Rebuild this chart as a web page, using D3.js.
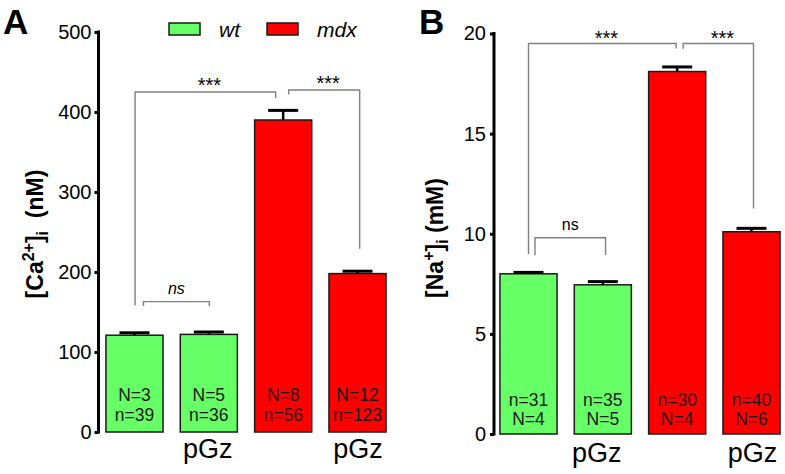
<!DOCTYPE html>
<html><head><meta charset="utf-8">
<script src="https://cdn.jsdelivr.net/npm/d3@7"></script>
<style>
html,body{margin:0;padding:0;background:#fff;}
svg{display:block;font-family:"Liberation Sans",Arial,Helvetica,sans-serif;}
</style></head>
<body>
<svg id="chart" width="785" height="474"></svg>
<script>
// ---- data ----
const categories = ["wt", "wt pGz", "mdx", "mdx pGz"];
const groups = ["wt", "wt", "mdx", "mdx"];
const xLabels = ["", "pGz", "", "pGz"];
const legendItems = ["wt", "mdx"];

const caMeans = [121, 122, 390, 198];
const caSEM = [3, 3, 12, 3];
const caLine1 = ["N=3", "N=5", "N=8", "N=12"];
const caLine2 = ["n=39", "n=36", "n=56", "n=123"];
const caTicks = [0, 100, 200, 300, 400, 500];

const naMeans = [8.0, 7.45, 18.1, 10.1];
const naSEM = [0.07, 0.16, 0.23, 0.17];
const naLine1 = ["n=31", "n=35", "n=30", "n=40"];
const naLine2 = ["N=4", "N=5", "N=4", "N=6"];
const naTicks = [0, 5, 10, 15, 20];

// significance brackets: bar indices, level & leg ends in data units
const caBrackets = [
  {a: 0, b: 2, y: 425, ya: 158, yb: 417.5, label: "***", italic: false},
  {a: 2, b: 3, y: 427.5, ya: 422, yb: 229, label: "***", italic: false},
  {a: 0, b: 1, y: 163, ya: 157.5, yb: 157.5, label: "ns", italic: true}
];
const naBrackets = [
  {a: 0, b: 2, y: 19.5, ya: 8.98, yb: 19.25, label: "***", italic: false},
  {a: 2, b: 3, y: 19.5, ya: 19.24, yb: 11.26, label: "***", italic: false},
  {a: 0, b: 1, y: 9.8, ya: 8.93, yb: 8.93, label: "ns", italic: false}
];

// ---- style ----
const colors = {wt: "#66FF66", mdx: "#FF0000"};
const caBracketDx = [[0.6, -7.5], [5.5, 2.2], [9, 0.5]];
const naBracketDx = [[0, -1], [6, 2], [6.5, 2.7]];

const svg = d3.select("#chart");

function panel(cfg) {
  const y = d3.scaleLinear().domain([0, cfg.max]).range([cfg.y0, cfg.y1]);
  const x = d3.scaleBand().domain(categories)
    .range([cfg.axisX, cfg.axisX + cfg.width])
    .paddingInner(0.232).paddingOuter(cfg.padOuter).align(0.5);
  const g = svg.append("g");

  // axis
  const axis = d3.axisLeft(y).tickValues(cfg.ticks).tickSize(4).tickPadding(cfg.tickPad)
    .tickSizeOuter(0);
  const ax = g.append("g").attr("transform", `translate(${cfg.axisX},0)`).call(axis);
  ax.select(".domain").attr("stroke", "#000").attr("stroke-width", 3)
    .attr("d", `M0,${cfg.y1 - 1.5}V${cfg.y0 + 1.5}`);
  ax.selectAll(".tick line").attr("stroke", "#000").attr("stroke-width", 3);
  ax.selectAll(".tick text").attr("font-size", 20).attr("fill", "#000")
    .attr("font-family", '"Liberation Sans",Arial,sans-serif');

  // bars
  g.selectAll("rect.bar").data(cfg.means).join("rect").attr("class", "bar")
    .attr("x", (d, i) => x(categories[i]))
    .attr("width", x.bandwidth())
    .attr("y", d => y(d))
    .attr("height", d => y(0) - y(d))
    .attr("fill", (d, i) => colors[groups[i]])
    .attr("stroke", "#1a1a1a").attr("stroke-width", 1.5);

  // error bars
  cfg.means.forEach((m, i) => {
    const cx = x(categories[i]) + x.bandwidth() / 2;
    g.append("line").attr("x1", cx).attr("x2", cx)
      .attr("y1", y(m)).attr("y2", y(m + cfg.sem[i]))
      .attr("stroke", "#000").attr("stroke-width", 2.5);
    g.append("line").attr("x1", cx - 15).attr("x2", cx + 15)
      .attr("y1", y(m + cfg.sem[i])).attr("y2", y(m + cfg.sem[i]))
      .attr("stroke", "#000").attr("stroke-width", 3);
  });

  // inside labels
  cfg.means.forEach((m, i) => {
    const cx = x(categories[i]) + x.bandwidth() / 2;
    g.append("text").attr("x", cx).attr("y", cfg.lab1Y).attr("text-anchor", "middle")
      .attr("font-size", 17.5).attr("fill", "#1a1a1a").text(cfg.line1[i]);
    g.append("text").attr("x", cx).attr("y", cfg.lab2Y).attr("text-anchor", "middle")
      .attr("font-size", 17.5).attr("fill", "#1a1a1a").text(cfg.line2[i]);
    if (xLabels[i]) {
      g.append("text").attr("x", cx + cfg.pgzDx[i]).attr("y", cfg.pgzY).attr("text-anchor", "middle")
        .attr("font-size", 27).attr("fill", "#000").text(xLabels[i]);
    }
  });

  // brackets
  cfg.brackets.forEach((b, k) => {
    const xa = x(categories[b.a]) + x.bandwidth() / 2 + cfg.bdx[k][0];
    const xb = x(categories[b.b]) + x.bandwidth() / 2 + cfg.bdx[k][1];
    const yy = y(b.y);
    g.append("path")
      .attr("d", `M${xa},${y(b.ya)}V${yy}H${xb}V${y(b.yb)}`)
      .attr("fill", "none").attr("stroke", "#808080").attr("stroke-width", 1.4);
    const isStar = b.label === "***";
    g.append("text").attr("x", (xa + xb) / 2 + (isStar ? 4 : 0))
      .attr("y", isStar ? yy + cfg.starDy : yy - 8)
      .attr("text-anchor", "middle")
      .attr("font-size", isStar ? 20 : 16)
      .attr("font-style", b.italic ? "italic" : "normal")
      .attr("fill", "#000").text(b.label);
  });

  // y title
  const t = g.append("text")
    .attr("transform", `translate(${cfg.titleX},${cfg.titleY}) rotate(-90)`)
    .attr("text-anchor", "middle").attr("font-weight", "bold").attr("font-size", cfg.titleSize)
    .attr("fill", "#000");
  cfg.title(t);

  // panel letter
  svg.append("text").attr("x", cfg.letterX).attr("y", 34).attr("font-size", 35)
    .attr("font-weight", "bold").attr("fill", "#000").text(cfg.letter);
}

panel({
  max: 500, y0: 432, y1: 32, axisX: 98.5, width: 295, padOuter: 0.1, ticks: caTicks, tickPad: 3,
  means: caMeans, sem: caSEM, line1: caLine1, line2: caLine2, lab1Y: 401, lab2Y: 421,
  pgzY: 458, pgzDx: [0, -1, 0, 0.5], brackets: caBrackets, bdx: caBracketDx, starDy: 0,
  titleX: 43, titleY: 234, titleSize: 23, letter: "A", letterX: 3,
  title: t => {
    t.append("tspan").text("[Ca");
    t.append("tspan").attr("font-size", 16).attr("dy", -9).text("2+");
    t.append("tspan").attr("dy", 9).text("]");
    t.append("tspan").attr("font-size", 16).attr("dy", 5).text("i");
    t.append("tspan").attr("dy", -5).text("\u00a0\u00a0(nM)");
  }
});

panel({
  max: 20, y0: 434, y1: 33.5, axisX: 494, width: 292, padOuter: 0.08, ticks: naTicks, tickPad: 4,
  means: naMeans, sem: naSEM, line1: naLine1, line2: naLine2, lab1Y: 406, lab2Y: 425,
  pgzY: 462, pgzDx: [0, -6, 0, 1], brackets: naBrackets, bdx: naBracketDx, starDy: 1,
  titleX: 443, titleY: 238, titleSize: 23, letter: "B", letterX: 419,
  title: t => {
    t.append("tspan").text("[Na");
    t.append("tspan").attr("font-size", 16).attr("dy", -9).text("+");
    t.append("tspan").attr("dy", 9).text("]");
    t.append("tspan").attr("font-size", 16).attr("dy", 5).text("i");
    t.append("tspan").attr("dy", -5).text(" (mM)");
  }
});

// legend
const leg = svg.append("g");
const legX = [169, 267];
legendItems.forEach((name, i) => {
  leg.append("rect").attr("x", legX[i]).attr("y", 23).attr("width", 31).attr("height", 12)
    .attr("fill", colors[name]).attr("stroke", "#1a1a1a").attr("stroke-width", 1.5);
  leg.append("text").attr("x", legX[i] + 50).attr("y", 37).attr("font-size", 21)
    .attr("font-style", "italic").attr("fill", "#000").text(name);
});
</script>
</body></html>
